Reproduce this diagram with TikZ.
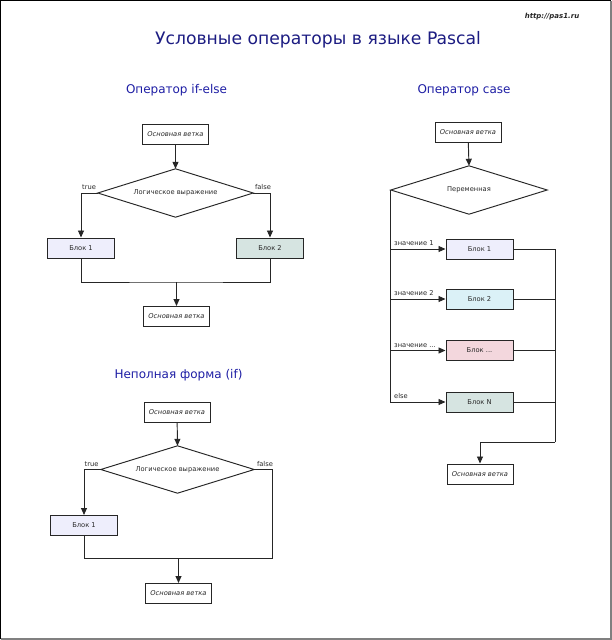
\documentclass[tikz,border=0pt]{standalone}
\usepackage{fontspec}
\setmainfont{DejaVu Sans}
\usetikzlibrary{arrows.meta}
\definecolor{ttl}{RGB}{28,28,130}
\definecolor{sub}{RGB}{30,30,165}
\definecolor{lav}{RGB}{238,238,252}
\definecolor{gg}{RGB}{214,228,225}
\definecolor{cy}{RGB}{219,241,247}
\definecolor{pk}{RGB}{243,215,221}
\definecolor{txt}{RGB}{40,40,40}
\tikzset{
  main/.style={draw=black!85,line width=1pt,fill=white,minimum width=66pt,minimum height=20pt,inner sep=0pt,font=\fontsize{6.7}{7}\selectfont\itshape,text=txt},
  blk/.style={draw=black!85,line width=1pt,minimum width=67pt,minimum height=20pt,inner sep=0pt,font=\fontsize{6.7}{7}\selectfont,text=txt},
  cond/.style={inner sep=0pt,font=\fontsize{6.7}{7}\selectfont,text=txt},
  lbl/.style={inner sep=0pt,font=\fontsize{6.7}{7}\selectfont,text=txt},
  heading/.style={inner sep=0pt,font=\fontsize{12}{14}\selectfont,text=sub},
  ln/.style={line width=0.95pt,draw=black!85},
  arr/.style={ln,-{Triangle[length=7pt,width=6pt]}}
}
\begin{document}
\begin{tikzpicture}[x=1pt,y=-1pt]
\useasboundingbox (0,0) rectangle (612,640);
\fill[white] (0,0) rectangle (612,640);
\draw[black,line width=1.2pt] (0.6,639.4) -- (0.6,0.6) -- (611,0.6);
\draw[gray,line width=2pt] (1,639) -- (611,639) -- (611,1);
% titles
\node[inner sep=0pt,font=\fontsize{7}{8}\selectfont\bfseries\itshape,text=black!85] (site) at (552,17) {http://pas1.ru};
\node[inner sep=0pt,font=\fontsize{17.2}{19}\selectfont,text=ttl] (title) at (318,40) {Условные операторы в языке Pascal};
\node[heading] (h1) at (176.5,90.5) {Оператор if-else};
\node[heading] (h2) at (464,90.5) {Оператор case};
\node[heading] (h3) at (178.5,375) {Неполная форма (if)};
% if-else
\node[main] (t1) at (175.5,134) {Основная ветка};
\node[cond,minimum width=155pt,minimum height=48pt] (d1) at (175.5,193) {Логическое выражение};
\draw[ln] (d1.north) -- (d1.east) -- (d1.south) -- (d1.west) -- cycle;
\node[blk,fill=lav] (b11) at (81,248) {Блок 1};
\node[blk,fill=gg] (b12) at (270,248) {Блок 2};
\node[main] (e1) at (176.5,316.5) {Основная ветка};
\node[lbl] (tr1) at (89,187) {true};
\node[lbl] (fa1) at (263,187) {false};
\coordinate (j1) at (176.5,282);
\draw[arr] (t1) -- (d1.north);
\draw[arr] (d1.west) -| (b11.north);
\draw[arr] (d1.east) -| (b12.north);
\draw[ln] (b11.south) |- (j1) -| (b12.south);
\draw[arr] (j1) -- (e1.north);
% case
\node[main] (c0) at (468,132) {Основная ветка};
\node[cond,minimum width=156pt,minimum height=48pt] (cd) at (469,190) {Переменная};
\draw[ln] (cd.north) -- (cd.east) -- (cd.south) -- (cd.west) -- cycle;
\node[blk,fill=lav] (cb1) at (479.5,249) {Блок 1};
\node[blk,fill=cy] (cb2) at (479.5,299) {Блок 2};
\node[blk,fill=pk] (cb3) at (479.5,350.5) {Блок ...};
\node[blk,fill=gg] (cb4) at (479.5,402) {Блок N};
\node[main] (ce) at (480,474) {Основная ветка};
\node[lbl,anchor=south west] (v1) at (394,246) {значение 1};
\node[lbl,anchor=south west] (v2) at (394,296) {значение 2};
\node[lbl,anchor=south west] (v3) at (394,347.5) {значение ...};
\node[lbl,anchor=south west] (v4) at (394,399) {else};
\coordinate (cr) at (555,442);
\draw[arr] (c0) -- (cd.north);
\draw[arr] (cd.west) |- (cb1.west);
\draw[arr] (cd.west) |- (cb2.west);
\draw[arr] (cd.west) |- (cb3.west);
\draw[arr] (cd.west) |- (cb4.west);
\draw[ln] (cb1.east) -| (cr);
\draw[ln] (cb2.east) -| (cr);
\draw[ln] (cb3.east) -| (cr);
\draw[ln] (cb4.east) -| (cr);
\draw[arr] (cr) -| (ce.north);
% incomplete
\node[main] (i0) at (177,412) {Основная ветка};
\node[cond,minimum width=153pt,minimum height=47pt] (id) at (177.5,469.5) {Логическое выражение};
\draw[ln] (id.north) -- (id.east) -- (id.south) -- (id.west) -- cycle;
\node[blk,fill=lav] (ib1) at (84,525.5) {Блок 1};
\node[main] (ie) at (178.5,593.5) {Основная ветка};
\node[lbl] (tr3) at (91.5,464) {true};
\node[lbl] (fa3) at (265,464) {false};
\coordinate (ir) at (272,558);
\coordinate (j3) at (178.5,558);
\draw[arr] (i0) -- (id.north);
\draw[arr] (id.west) -| (ib1.north);
\draw[ln] (id.east) -| (ir) -| (ib1.south);
\draw[arr] (j3) -- (ie.north);
\end{tikzpicture}
\end{document}
